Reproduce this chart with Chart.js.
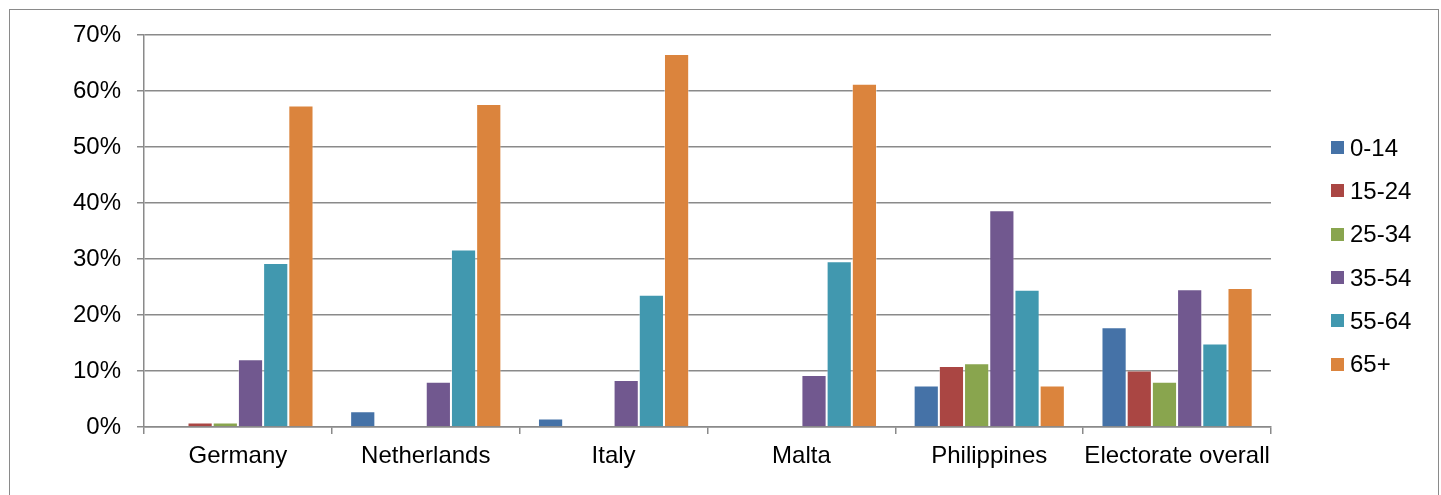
<!DOCTYPE html>
<html>
<head>
<meta charset="utf-8">
<script src="https://cdn.jsdelivr.net/npm/chart.js@4.4.1/dist/chart.umd.min.js"></script>
<style>
  html, body { margin: 0; padding: 0; background: #fff; }
  #wrap { position: relative; width: 1441px; height: 495px; overflow: hidden; }
  #frame { position: absolute; left: 9px; top: 9px; width: 1430px; height: 600px; border: 1.5px solid #8a8a8a; box-sizing: border-box; }
  #chart { position: absolute; left: 0; top: 0; }
  #legend { position: absolute; left: 1331px; top: 126px; font-family: "Liberation Sans", Arial, sans-serif; font-size: 24px; color: #000; }
  #legend .row { height: 43.3px; display: flex; align-items: center; }
  #legend .box { width: 13px; height: 13px; margin-right: 6px; }
</style>
</head>
<body>
<div id="wrap">
  <div id="frame"></div>
  <canvas id="chart" width="1441" height="495"></canvas>
  <div id="legend"></div>
</div>
<script>
// --- DATA ---
const categories = ['Germany', 'Netherlands', 'Italy', 'Malta', 'Philippines', 'Electorate overall'];
const ageGroups = ['0-14', '15-24', '25-34', '35-54', '55-64', '65+'];
const age0_14  = [0,    2.8, 1.5, 0,    7.4, 17.8];
const age15_24 = [0.8,  0,   0,   0,   10.9, 10.1];
const age25_34 = [0.8,  0,   0,   0,   11.4,  8.1];
const age35_54 = [12.1, 8.1, 8.4, 9.3, 38.7, 24.6];
const age55_64 = [29.3, 31.7, 23.6, 29.6, 24.5, 14.9];
const age65    = [57.4, 57.7, 66.6, 61.3, 7.4, 24.8];
const yTicks = [0, 10, 20, 30, 40, 50, 60, 70];

const colors = ['#4572A7', '#AA4643', '#89A54E', '#71588F', '#4198AF', '#DB843D'];
const seriesValues = [age0_14, age15_24, age25_34, age35_54, age55_64, age65];

const FONT = { family: '"Liberation Sans", Arial, sans-serif', size: 24 };
const GRID = '#8a8a8a';

const datasets = ageGroups.map((name, i) => ({
    label: name,
    data: seriesValues[i],
    backgroundColor: colors[i],
    borderColor: 'rgba(255,255,255,0.4)',
    borderWidth: 1,
    categoryPercentage: 0.805,
    barPercentage: 1.0
}));

const chart = new Chart(document.getElementById('chart'), {
    type: 'bar',
    data: { labels: categories, datasets },
    options: {
        responsive: false,
        devicePixelRatio: 1,
        animation: false,
        layout: { padding: { left: 0, right: 170, top: 35, bottom: 0 } },
        plugins: { legend: { display: false }, tooltip: { enabled: false } },
        scales: {
            x: {
                grid: { drawOnChartArea: false, drawTicks: true, tickLength: 7, color: GRID, lineWidth: 1.5 },
                border: { display: true, color: GRID, width: 1.5 },
                ticks: { font: FONT, color: '#000', padding: 8, maxRotation: 0, autoSkip: false },
                afterFit: s => { s.height = 68; }
            },
            y: {
                min: yTicks[0],
                max: yTicks[yTicks.length - 1],
                afterBuildTicks: s => { s.ticks = yTicks.map(v => ({ value: v })); },
                grid: { color: GRID, lineWidth: 1.5, tickLength: 7 },
                border: { display: true, color: GRID, width: 1.5 },
                ticks: { font: FONT, color: '#000', padding: 16, callback: v => v + '%' },
                afterFit: s => { s.width = 144; }
            }
        }
    }
});

// HTML legend from the chart's datasets
const legend = document.getElementById('legend');
chart.data.datasets.forEach(ds => {
    legend.innerHTML += `<div class="row"><span class="box" style="background:${ds.backgroundColor}"></span>${ds.label}</div>`;
});
</script>
</body>
</html>
